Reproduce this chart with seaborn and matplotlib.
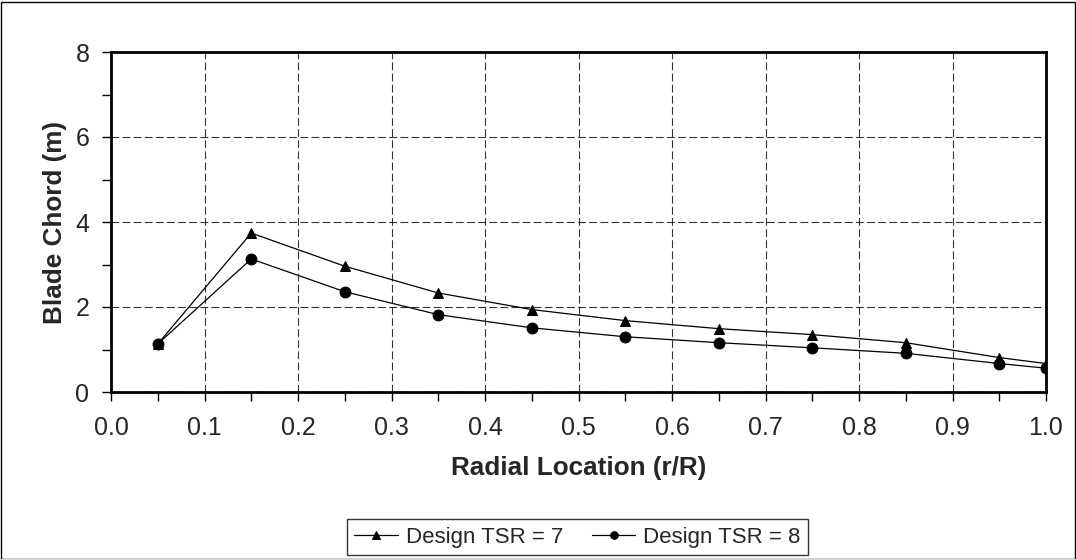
import matplotlib
matplotlib.use("Agg")
import matplotlib.pyplot as plt
import seaborn as sns
import pandas as pd
from matplotlib.ticker import MultipleLocator
from matplotlib.patches import Rectangle

radial = [0.05, 0.15, 0.25, 0.35, 0.45, 0.55, 0.65, 0.75, 0.85, 0.95, 1.0]
chord_tsr7 = [1.13, 3.74, 2.96, 2.33, 1.94, 1.68, 1.49, 1.35, 1.16, 0.81, 0.67]
chord_tsr8 = [1.13, 3.13, 2.36, 1.82, 1.51, 1.30, 1.16, 1.04, 0.91, 0.67, 0.56]
series_names = ["Design TSR = 7", "Design TSR = 8"]

df = pd.concat([
    pd.DataFrame({"r": radial, "chord": chord_tsr7, "series": series_names[0]}),
    pd.DataFrame({"r": radial, "chord": chord_tsr8, "series": series_names[1]}),
])

sns.set_style("white")
plt.rcParams["font.family"] = ["Liberation Sans", "DejaVu Sans"]

fig = plt.figure(figsize=(10.76, 5.59), dpi=100)
ax = fig.add_axes([111 / 1076, 1 - 392 / 559, (1046 - 111) / 1076, (392 - 52) / 559])

sns.lineplot(data=df, x="r", y="chord", hue="series", style="series",
             markers={series_names[0]: "^", series_names[1]: "o"},
             dashes=False, palette=["black", "black"], linewidth=0.9,
             markersize=7.8, markeredgecolor="black", ax=ax)

ax.set_xlim(0.0, 1.0)
ax.set_ylim(0, 8)
ax.xaxis.set_major_locator(MultipleLocator(0.1))
ax.xaxis.set_minor_locator(MultipleLocator(0.05))
ax.yaxis.set_major_locator(MultipleLocator(2))
ax.yaxis.set_minor_locator(MultipleLocator(1))
ax.set_xticks([round(0.1 * i, 1) for i in range(11)])
ax.set_xticklabels([f"{0.1 * i:.1f}" for i in range(11)])
ax.grid(True, which="major", color="black", linestyle=(0, (7, 3)), linewidth=0.8, alpha=0.8)
ax.tick_params(which="both", direction="out", color="black", length=6.5, width=1,
               labelsize=18, bottom=True, left=True)
ax.tick_params(axis="x", which="major", pad=10.5)
ax.tick_params(axis="y", which="major", pad=9)
for s in ax.spines.values():
    s.set_color("black")
    s.set_linewidth(2)

ax.set_xlabel("Radial Location (r/R)", fontsize=18.8, fontweight="bold", labelpad=12)
ax.set_ylabel("Blade Chord (m)", fontsize=18.8, fontweight="bold", labelpad=6)

handles, labels = ax.get_legend_handles_labels()
ax.legend_.remove()
leg = fig.legend(handles, labels, loc="center", bbox_to_anchor=(577.5 / 1076, 1 - 537 / 559),
                 ncol=2, frameon=True, fancybox=False, edgecolor="black", fontsize=16,
                 handlelength=1.95, handletextpad=0.36, columnspacing=1.3, borderpad=0.35,
                 borderaxespad=0, markerscale=0.7)
leg.get_frame().set_linewidth(1)

fig.patches.append(Rectangle((0.5 / 1076, 0.5 / 559), 1 - 2 / 1076, 1 - 2 / 559,
                             transform=fig.transFigure, fill=False,
                             edgecolor="black", linewidth=1))

fig.savefig("out.png", dpi=100)
